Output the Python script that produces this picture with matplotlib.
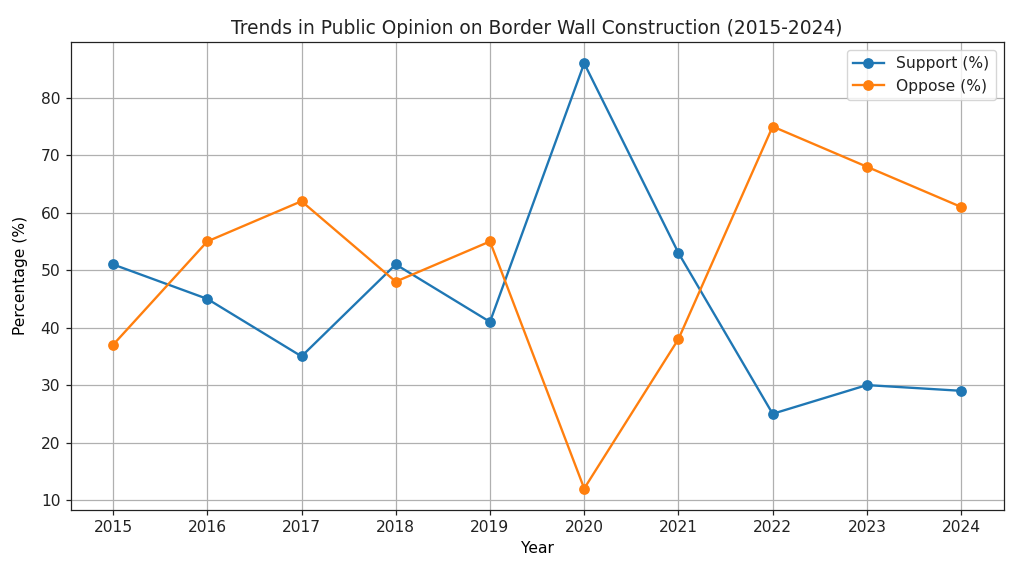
import matplotlib
matplotlib.use("Agg")
import matplotlib.pyplot as plt

years = [2015, 2016, 2017, 2018, 2019, 2020, 2021, 2022, 2023, 2024]
support = [51, 45, 35, 51, 41, 86, 53, 25, 30, 29]
oppose = [37, 55, 62, 48, 55, 12, 38, 75, 68, 61]

s = 1.12
plt.rcParams['font.size'] = 10 * s
plt.rcParams['lines.linewidth'] = 1.5 * s
plt.rcParams['lines.markersize'] = 6 * s
plt.rcParams['axes.linewidth'] = 0.8 * s
plt.rcParams['grid.linewidth'] = 0.8 * s
plt.rcParams['xtick.major.width'] = 0.8 * s
plt.rcParams['ytick.major.width'] = 0.8 * s
plt.rcParams['xtick.major.size'] = 3.5 * s
plt.rcParams['ytick.major.size'] = 3.5 * s
plt.rcParams['text.color'] = '#222222'
plt.rcParams['xtick.color'] = '#222222'
plt.rcParams['ytick.color'] = '#222222'
plt.rcParams['axes.edgecolor'] = '#222222'

fig = plt.figure(figsize=(10.24, 5.76), dpi=100)
ax = fig.add_axes([0.069, 0.115, 0.911, 0.812])
ax.plot(years, support, marker='o', label='Support (%)')
ax.plot(years, oppose, marker='o', label='Oppose (%)')
ax.set_xticks(years)
ax.set_title('Trends in Public Opinion on Border Wall Construction (2015-2024)', fontsize=12 * s)
ax.set_xlabel('Year')
ax.set_ylabel('Percentage (%)', labelpad=9)
ax.grid(True)
ax.legend(loc='upper right')
fig.savefig('out.png', dpi=100)
